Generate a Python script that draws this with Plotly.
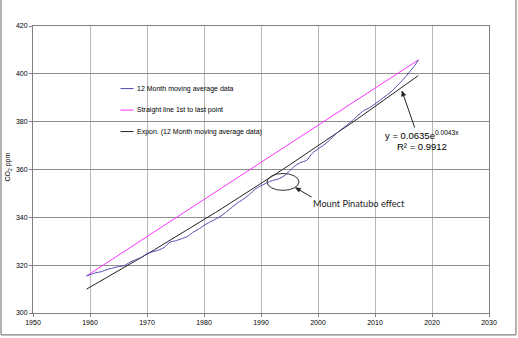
import numpy as np
import plotly.graph_objects as go

# 12-month moving average of atmospheric CO2 (ppm)
years = [1959.4, 1960, 1961, 1962, 1963, 1964, 1965, 1966, 1967, 1968, 1969,
         1970, 1971, 1972, 1973, 1974, 1975, 1976, 1977, 1978, 1979,
         1980, 1981, 1982, 1983, 1984, 1985, 1986, 1987, 1988, 1989,
         1990, 1991, 1992, 1993, 1994, 1995, 1996, 1997, 1998, 1999,
         2000, 2001, 2002, 2003, 2004, 2005, 2006, 2007, 2008, 2009,
         2010, 2011, 2012, 2013, 2014, 2015, 2016, 2017, 2017.6]
co2_ppm = [315.5, 316.0, 316.8, 317.3, 318.2, 318.8, 319.4, 319.8, 321.2, 322.3, 323.2,
           324.8, 325.6, 326.3, 327.4, 329.6, 330.2, 331.0, 331.9, 333.6, 335.0,
           336.6, 338.0, 339.2, 340.6, 342.4, 344.4, 346.2, 347.8, 349.6, 351.8,
           353.2, 354.4, 355.4, 356.0, 357.2, 359.4, 361.6, 363.0, 363.8, 366.8,
           368.6, 370.2, 372.2, 374.6, 376.6, 378.4, 380.4, 382.6, 384.6, 385.8,
           387.4, 389.2, 391.0, 392.9, 395.3, 397.8, 400.6, 403.6, 405.8]

x_ticks = [1950, 1960, 1970, 1980, 1990, 2000, 2010, 2020, 2030]
y_ticks = [300, 320, 340, 360, 380, 400, 420]

legend_names = ["12 Month moving average data",
                "Straight line 1st to last point",
                "Expon. (12 Month moving average data)"]
fit_label = "y = 0.0635e<sup>0.0043x</sup>"
r2_label = "R² = 0.9912"
note_label = "Mount Pinatubo effect"

BLUE = "#4a4aae"
MAGENTA = "#ff33ff"
BLACK = "#222222"

# exponential trendline (least squares on log values)
xs = np.array(years)
b, ln_a = np.polyfit(xs, np.log(co2_ppm), 1)
trend_x = np.linspace(years[0], years[-1], 50)
trend_y = np.exp(ln_a + b * trend_x)

W, H = 518, 338
ML, MR, MT, MB = 33, 29, 26, 23
PW, PH = W - ML - MR, H - MT - MB


def px(xp):
    return (xp - ML) / PW


def py(yp):
    return (H - MB - yp) / PH


fig = go.Figure()
fig.add_trace(go.Scatter(x=trend_x, y=trend_y, mode="lines",
                         line=dict(color=BLACK, width=1), showlegend=False))
fig.add_trace(go.Scatter(x=[years[0], years[-1]], y=[co2_ppm[0], co2_ppm[-1]],
                         mode="lines", line=dict(color=MAGENTA, width=1),
                         showlegend=False))
fig.add_trace(go.Scatter(x=years, y=co2_ppm, mode="lines",
                         line=dict(color=BLUE, width=1, shape="spline", smoothing=0.6),
                         showlegend=False))

shapes = []
# legend background box hides the gridlines behind it
shapes.append(dict(type="rect", xref="paper", yref="paper", layer="between",
                   x0=px(108), x1=px(273), y0=py(143), y1=py(75.5),
                   fillcolor="white", line=dict(width=0)))
annotations = []
legend_colors = [BLUE, MAGENTA, BLACK]
for i, (name, col) in enumerate(zip(legend_names, legend_colors)):
    yy = [89, 110.7, 132.3][i]
    shapes.append(dict(type="line", xref="paper", yref="paper",
                       x0=px(120.5), x1=px(133.5), y0=py(yy), y1=py(yy),
                       line=dict(color=col, width=1)))
    annotations.append(dict(xref="paper", yref="paper", x=px(135), y=py(yy),
                            text=name, showarrow=False, xanchor="left",
                            yanchor="middle",
                            font=dict(family="Liberation Sans", size=7, color="#000")))

# Pinatubo ellipse
shapes.append(dict(type="circle", xref="paper", yref="paper",
                   x0=px(267), x1=px(299), y0=py(191.5), y1=py(174.5),
                   line=dict(color="#333333", width=1)))


def arrow(x_tail, y_tail, x_head, y_head):
    """Straight connector with a small filled head, in pixel coordinates."""
    shapes.append(dict(type="line", xref="paper", yref="paper",
                       x0=px(x_tail), y0=py(y_tail), x1=px(x_head), y1=py(y_head),
                       line=dict(color="#222", width=1)))
    dx, dy = x_head - x_tail, y_head - y_tail
    n = (dx * dx + dy * dy) ** 0.5
    ux, uy = dx / n, dy / n
    bx, by = x_head - ux * 5, y_head - uy * 5
    p1 = (bx - uy * 2.2, by + ux * 2.2)
    p2 = (bx + uy * 2.2, by - ux * 2.2)
    path = "M {} {} L {} {} L {} {} Z".format(
        px(x_head), py(y_head), px(p1[0]), py(p1[1]), px(p2[0]), py(p2[1]))
    shapes.append(dict(type="path", xref="paper", yref="paper", path=path,
                       fillcolor="#222", line=dict(color="#222", width=0.5)))


arrow(414.7, 128.3, 402, 91.5)
arrow(311.5, 198.3, 295.5, 188.8)

# figure border
for (x0, y0, x1, y1) in [(1, -2, 1, 337), (516, -2, 516, 337), (1, 337, 516, 337)]:
    shapes.append(dict(type="line", xref="paper", yref="paper",
                       x0=px(x0), x1=px(x1), y0=py(y0), y1=py(y1),
                       line=dict(color="#808080", width=1.2)))

# trendline equation
annotations.append(dict(xref="paper", yref="paper", x=px(421.5), y=py(136),
                        text=fit_label, showarrow=False,
                        xanchor="center", yanchor="middle",
                        font=dict(family="Liberation Sans", size=9.5, color="#000")))
annotations.append(dict(xref="paper", yref="paper", x=px(421.5), y=py(147.5),
                        text=r2_label, showarrow=False,
                        xanchor="center", yanchor="middle",
                        font=dict(family="Liberation Sans", size=9.5, color="#000")))
# Pinatubo label
annotations.append(dict(xref="paper", yref="paper", x=px(311), y=py(205),
                        text=note_label, showarrow=False, xanchor="left",
                        yanchor="middle",
                        font=dict(family="Lato", size=9.2, color="#222")))
# y-axis title
annotations.append(dict(xref="paper", yref="paper", x=px(8.5), y=py(168),
                        text="CO<sub>2</sub> ppm", showarrow=False, textangle=-90,
                        xanchor="center", yanchor="middle",
                        font=dict(family="Liberation Sans", size=7, color="#000")))

tickfont = dict(family="Liberation Sans", size=7, color="#000")
fig.update_layout(
    width=W, height=H,
    margin=dict(l=ML, r=MR, t=MT, b=MB),
    paper_bgcolor="white", plot_bgcolor="white",
    showlegend=False,
    shapes=shapes, annotations=annotations,
    xaxis=dict(range=[1950, 2030], tickvals=x_ticks, ticktext=[str(v) for v in x_ticks],
               showgrid=True, gridcolor="#b8b8b8", gridwidth=1.3,
               showline=True, linecolor="#808080", linewidth=1, mirror=True,
               ticks="outside", ticklen=3, tickcolor="#808080", tickfont=tickfont,
               zeroline=False),
    yaxis=dict(range=[300, 420], tickvals=y_ticks, ticktext=[str(v) for v in y_ticks],
               showgrid=True, gridcolor="#8c8c8c", gridwidth=1,
               showline=True, linecolor="#808080", linewidth=1, mirror=True,
               ticks="outside", ticklen=3, tickcolor="#808080", tickfont=tickfont,
               zeroline=False),
)

fig.write_html("out.html")
